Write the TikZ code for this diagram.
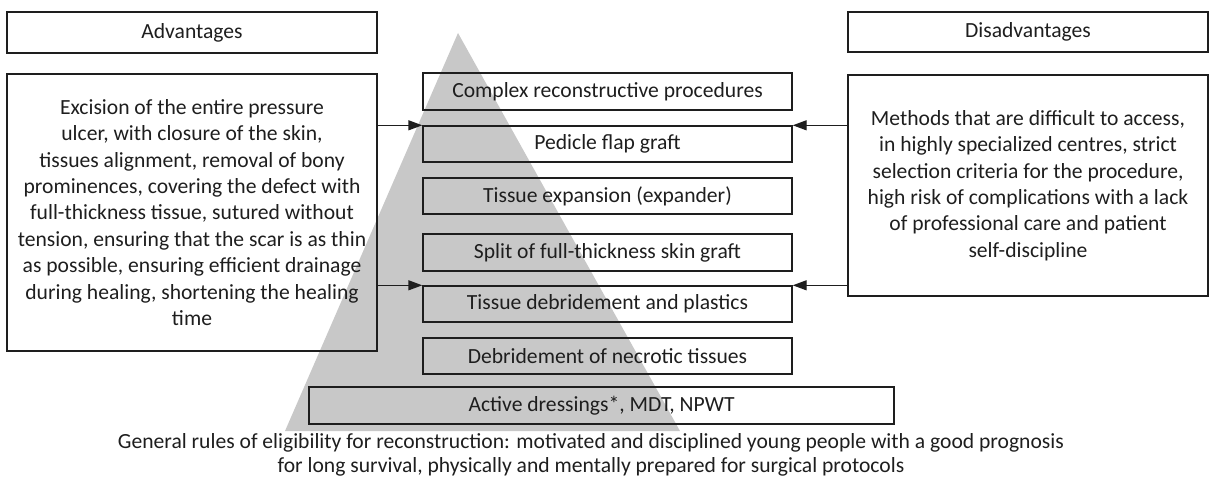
\documentclass[tikz,border=0pt]{standalone}
\usepackage{fontspec}
\setmainfont{Carlito}
\usetikzlibrary{arrows.meta}
\definecolor{tri}{RGB}{200,200,200}
\definecolor{ink}{RGB}{30,30,30}
\begin{document}
\begin{tikzpicture}[x=1pt,y=-1pt,
  box/.style={draw=ink,line width=1.4pt,inner sep=0pt,text=ink,align=center,font=\fontsize{21.6}{26.4}\selectfont},
  arr/.style={draw=ink,line width=1.4pt,-{Triangle[length=14pt,width=10pt]}}]
\useasboundingbox (0,0) rectangle (1211,487);
\fill[tri] (458,33) -- (680,431) -- (285,431) -- cycle;
\node[box,minimum width=370pt,minimum height=41pt] (adv) at (192,32.5) {Advantages};
\node[box,minimum width=360pt,minimum height=40pt] (dis) at (1028,32) {Disadvantages};
\node[box,minimum width=370pt,minimum height=277pt] (lb) at (192,212.5) {Excision of the entire pressure\\ulcer, with closure of the skin,\\tissues alignment, removal of bony\\prominences, covering the defect with\\full-thickness tissue, sutured without\\tension, ensuring that the scar is as thin\\as possible, ensuring efficient drainage\\during healing, shortening the healing\\time};
\node[box,minimum width=360pt,minimum height=221pt] (rb) at (1028,185.5) {Methods that are difficult to access,\\in highly specialized centres, strict\\selection criteria for the procedure,\\high risk of complications with a lack\\of professional care and patient\\self-discipline};
\node[box,minimum width=369pt,minimum height=37pt] (b1) at (607.5,91.5) {Complex reconstructive procedures};
\node[box,minimum width=369pt,minimum height=36pt] (b2) at (607.5,144) {Pedicle flap graft};
\node[box,minimum width=369pt,minimum height=36pt] (b3) at (607.5,196) {Tissue expansion (expander)};
\node[box,minimum width=369pt,minimum height=37pt] (b4) at (607.5,252.5) {Split of full-thickness skin graft};
\node[box,minimum width=369pt,minimum height=36pt] (b5) at (607.5,304) {Tissue debridement and plastics};
\node[box,minimum width=369pt,minimum height=36pt] (b6) at (607.5,356) {Debridement of necrotic tissues};
\node[box,minimum width=585pt,minimum height=37pt] (b7) at (601.5,405.5) {Active dressings*, MDT, NPWT};
\node[text=ink,align=center,inner sep=0pt,font=\fontsize{21.6}{24}\selectfont] (gen) at (591,455) {General rules of eligibility for reconstruction: motivated and disciplined young people with a good prognosis\\for long survival, physically and mentally prepared for surgical protocols};
\draw[arr] (lb.east |- b2.north west) -- (b2.north west);
\draw[arr] (lb.east |- b5.north west) -- (b5.north west);
\draw[arr] (rb.west |- b2.north east) -- (b2.north east);
\draw[arr] (rb.west |- b5.north east) -- (b5.north east);
\end{tikzpicture}
\end{document}
